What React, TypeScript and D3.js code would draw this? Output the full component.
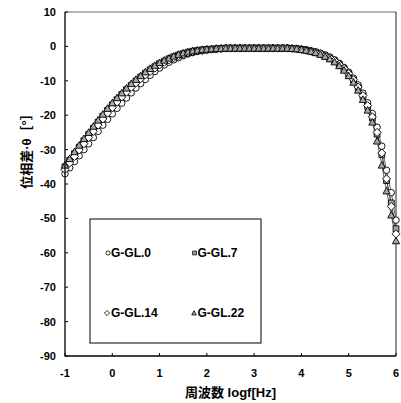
import React from "react";
import * as d3 from "d3";

const logf: number[] = [
  -1.0, -0.9, -0.8, -0.7, -0.6, -0.5, -0.4, -0.3, -0.2, -0.1,
  0.0, 0.1, 0.2, 0.3, 0.4, 0.5, 0.6, 0.7, 0.8, 0.9,
  1.0, 1.1, 1.2, 1.3, 1.4, 1.5, 1.6, 1.7, 1.8, 1.9,
  2.0, 2.1, 2.2, 2.3, 2.4, 2.5, 2.6, 2.7, 2.8, 2.9,
  3.0, 3.1, 3.2, 3.3, 3.4, 3.5, 3.6, 3.7, 3.8, 3.9,
  4.0, 4.1, 4.2, 4.3, 4.4, 4.5, 4.6, 4.7, 4.8, 4.9,
  5.0, 5.1, 5.2, 5.3, 5.4, 5.5, 5.6, 5.7, 5.8, 5.9, 6.0,
];

const gl0: number[] = [
  -37.0, -35.3, -33.5, -31.8, -30.0, -28.3, -26.5, -24.7, -22.9, -21.2,
  -19.6, -18.0, -16.5, -15.0, -13.5, -12.1, -10.8, -9.6, -8.4, -7.3,
  -6.3, -5.4, -4.6, -3.9, -3.3, -2.7, -2.2, -1.8, -1.5, -1.3,
  -1.1, -0.9, -0.8, -0.7, -0.6, -0.5, -0.5, -0.5, -0.5, -0.5,
  -0.5, -0.5, -0.5, -0.5, -0.5, -0.5, -0.5, -0.5, -0.6, -0.7,
  -0.8, -1.0, -1.3, -1.6, -2.0, -2.5, -3.1, -3.9, -4.9, -6.1,
  -7.5, -9.2, -11.2, -13.6, -16.4, -19.5, -23.5, -29.0, -36.0, -42.5, -50.5,
];

const gl7: number[] = [
  -35.0, -33.1, -31.2, -29.3, -27.4, -25.6, -23.8, -22.0, -20.3, -18.6,
  -17.0, -15.5, -14.0, -12.6, -11.3, -10.1, -8.9, -7.8, -6.8, -5.9,
  -5.0, -4.3, -3.6, -3.0, -2.5, -2.1, -1.7, -1.4, -1.2, -1.0,
  -0.9, -0.8, -0.7, -0.6, -0.5, -0.5, -0.5, -0.5, -0.5, -0.5,
  -0.5, -0.5, -0.5, -0.5, -0.5, -0.5, -0.5, -0.5, -0.6, -0.7,
  -0.9, -1.1, -1.4, -1.7, -2.2, -2.7, -3.4, -4.2, -5.3, -6.5,
  -8.0, -9.8, -12.0, -14.5, -17.5, -20.8, -25.5, -31.5, -39.0, -45.5, -53.0,
];

const gl14: number[] = [
  -35.8, -33.9, -32.0, -30.1, -28.3, -26.5, -24.7, -22.9, -21.1, -19.4,
  -17.8, -16.2, -14.7, -13.3, -11.9, -10.6, -9.4, -8.3, -7.3, -6.3,
  -5.4, -4.6, -3.9, -3.3, -2.7, -2.3, -1.9, -1.5, -1.3, -1.1,
  -0.9, -0.8, -0.7, -0.6, -0.5, -0.5, -0.5, -0.5, -0.5, -0.5,
  -0.5, -0.5, -0.5, -0.5, -0.5, -0.5, -0.5, -0.5, -0.6, -0.7,
  -0.9, -1.1, -1.4, -1.7, -2.1, -2.7, -3.3, -4.1, -5.2, -6.4,
  -7.9, -9.7, -11.8, -14.3, -17.2, -20.5, -25.0, -31.0, -38.5, -46.5, -54.5,
];

const gl22: number[] = [
  -34.5, -32.6, -30.6, -28.7, -26.8, -25.0, -23.2, -21.4, -19.7, -18.0,
  -16.4, -14.9, -13.5, -12.1, -10.8, -9.6, -8.5, -7.4, -6.4, -5.5,
  -4.7, -4.0, -3.4, -2.8, -2.3, -1.9, -1.6, -1.3, -1.1, -0.9,
  -0.8, -0.7, -0.6, -0.6, -0.5, -0.5, -0.5, -0.5, -0.5, -0.5,
  -0.5, -0.5, -0.5, -0.5, -0.5, -0.5, -0.5, -0.5, -0.6, -0.7,
  -0.9, -1.1, -1.4, -1.8, -2.3, -2.9, -3.6, -4.5, -5.6, -6.9,
  -8.5, -10.4, -12.7, -15.4, -18.5, -22.0, -27.5, -34.5, -42.0, -49.0, -56.5,
];

const seriesNames: string[] = ["G-GL.0", "G-GL.7", "G-GL.14", "G-GL.22"];
const xTicks: number[] = [-1, 0, 1, 2, 3, 4, 5, 6];
const yTicks: number[] = [10, 0, -10, -20, -30, -40, -50, -60, -70, -80, -90];

const xTitle = "周波数 logf[Hz]";
const yTitle = "位相差·θ［°］";

type Shape = "circle" | "square" | "diamond" | "triangle";
const shapes: Shape[] = ["circle", "square", "diamond", "triangle"];
const fills: string[] = ["#ffffff", "#a6a6a6", "#ffffff", "#a6a6a6"];
const allValues: number[][] = [gl0, gl7, gl14, gl22];

const latin = "'Liberation Sans', Arial, sans-serif";
const cjk = "'Liberation Sans', 'Noto Sans CJK JP', sans-serif";

function markerPath(shape: Shape, s: number): string {
  if (shape === "circle") {
    return d3.symbol(d3.symbolCircle, Math.PI * (s / 2) * (s / 2))() as string;
  }
  if (shape === "square") {
    return d3.symbol(d3.symbolSquare, s * s * 0.8)() as string;
  }
  if (shape === "diamond") {
    const h = s * 0.62;
    return `M0,${-h}L${h},0L0,${h}L${-h},0Z`;
  }
  const h = s * 0.55;
  return `M0,${-h}L${h},${h * 0.85}L${-h},${h * 0.85}Z`;
}

export default function App() {
  const W = 401;
  const H = 403;
  const left = 65;
  const right = 396;
  const top = 12;
  const bottom = 356;
  const x = d3.scaleLinear().domain([-1, 6]).range([left, right]);
  const y = d3.scaleLinear().domain([-90, 10]).range([bottom, top]);

  const line = d3
    .line<[number, number]>()
    .x((d) => x(d[0]))
    .y((d) => y(d[1]));

  const legendPos = [
    { mx: 108, tx: 111, cy: 253 },
    { mx: 194.5, tx: 197.5, cy: 253 },
    { mx: 107, tx: 111, cy: 313 },
    { mx: 194, tx: 197.5, cy: 313 },
  ];

  return (
    <svg
      width={W}
      height={H}
      style={{ position: "absolute", left: 0, top: 0, background: "#fff" }}
    >
      <rect x={0} y={0} width={W} height={H} fill="#fff" />
      <line x1={left} y1={top} x2={right} y2={top} stroke="#6b6b6b" strokeWidth={1} />
      <line x1={right} y1={top} x2={right} y2={bottom} stroke="#222" strokeWidth={1} />
      {allValues.map((vals, si) => (
        <path
          key={"l" + si}
          d={line(logf.map((l, i) => [l, vals[i]] as [number, number])) as string}
          fill="none"
          stroke="#3a3a3a"
          strokeWidth={0.8}
        />
      ))}
      {allValues.map((vals, si) => (
        <g key={"m" + si}>
          {logf.map((l, i) => (
            <path
              key={i}
              transform={`translate(${x(l)},${y(vals[i])})`}
              d={markerPath(shapes[si], 6.5)}
              fill={fills[si]}
              stroke="#000"
              strokeWidth={0.9}
            />
          ))}
        </g>
      ))}
      <line x1={left} y1={top} x2={left} y2={bottom + 0.5} stroke="#000" strokeWidth={1.3} />
      <line x1={left} y1={bottom} x2={right} y2={bottom} stroke="#000" strokeWidth={1.3} />
      {yTicks.map((t) => (
        <g key={"yt" + t}>
          <line x1={left} x2={left + 3} y1={y(t)} y2={y(t)} stroke="#000" strokeWidth={1} />
          <text
            x={56}
            y={y(t)}
            textAnchor="end"
            dominantBaseline="central"
            fontFamily={latin}
            fontWeight="bold"
            fontSize={11}
            fill="#000"
          >
            {t}
          </text>
        </g>
      ))}
      {xTicks.map((t) => (
        <g key={"xt" + t}>
          <line x1={x(t)} x2={x(t)} y1={bottom} y2={bottom - 3} stroke="#000" strokeWidth={1} />
          <text
            x={x(t)}
            y={373}
            textAnchor="middle"
            dominantBaseline="central"
            fontFamily={latin}
            fontWeight="bold"
            fontSize={11}
            fill="#000"
          >
            {t}
          </text>
        </g>
      ))}
      <rect x={90} y={219} width={171} height={124} fill="#fff" stroke="#000" strokeWidth={1} />
      {seriesNames.map((name, si) => (
        <g key={"lg" + si}>
          <path
            transform={`translate(${legendPos[si].mx},${legendPos[si].cy})`}
            d={markerPath(shapes[si], 4.2)}
            fill={fills[si]}
            stroke="#000"
            strokeWidth={0.8}
          />
          <text
            x={legendPos[si].tx}
            y={legendPos[si].cy}
            dominantBaseline="central"
            fontFamily={latin}
            fontWeight="bold"
            fontSize={12}
            fill="#000"
          >
            {name}
          </text>
        </g>
      ))}
      <text
        x={(left + right) / 2}
        y={392}
        textAnchor="middle"
        dominantBaseline="central"
        fontFamily={cjk}
        fontWeight="bold"
        fontSize={13}
        fill="#000"
      >
        {xTitle}
      </text>
      <text
        transform={`translate(26,148) rotate(-90)`}
        textAnchor="middle"
        dominantBaseline="central"
        fontFamily={cjk}
        fontWeight="bold"
        fontSize={13}
        fill="#000"
      >
        {yTitle}
      </text>
    </svg>
  );
}
